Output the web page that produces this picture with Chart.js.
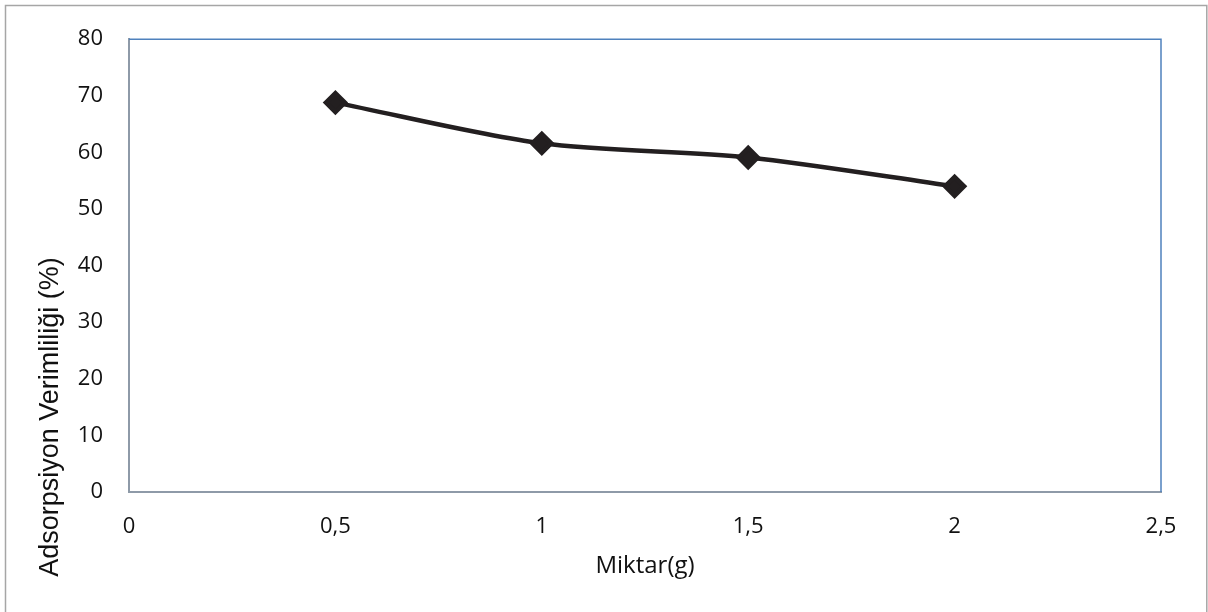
<!DOCTYPE html>
<html>
<head>
<meta charset="utf-8">
<script src="https://cdn.jsdelivr.net/npm/chart.js@4.4.1/dist/chart.umd.min.js"></script>
<style>
  html, body { margin: 0; padding: 0; background: #fff; }
  #wrap { width: 1208px; height: 612px; }
</style>
</head>
<body>
<div id="wrap"><canvas id="grafico" width="1208" height="612"></canvas></div>
<script>
// dados
const miktar = [0.5, 1, 1.5, 2];
const verim = [68.8, 61.6, 59.1, 54.0];
const xTickLabels = ['0', '0,5', '1', '1,5', '2', '2,5'];
const yTickLabels = ['0', '10', '20', '30', '40', '50', '60', '70', '80'];
const yTitulo = 'Adsorpsiyon Verimliliği (%)';

const pontos = miktar.map((m, i) => ({ x: m, y: verim[i] }));

// moldura externa, bordas do plot (cima/direita azul) e título do eixo y
const molduras = {
  id: 'molduras',
  beforeDraw(chart) {
    const c = chart.ctx;
    c.save();
    c.fillStyle = '#fff';
    c.fillRect(0, 0, chart.width, chart.height);
    c.strokeStyle = '#a6a6a6';
    c.lineWidth = 1.5;
    c.beginPath();
    c.moveTo(5.5, chart.height);
    c.lineTo(5.5, 5.5);
    c.lineTo(1206.8, 5.5);
    c.lineTo(1206.8, chart.height);
    c.stroke();
    c.restore();
  },
  afterDraw(chart) {
    const a = chart.chartArea;
    const c = chart.ctx;
    c.save();
    c.strokeStyle = '#4f81bd';
    c.lineWidth = 1.5;
    c.beginPath();
    c.moveTo(a.left, a.top);
    c.lineTo(a.right, a.top);
    c.lineTo(a.right, a.bottom);
    c.stroke();
    // título y
    c.translate(51, 417);
    c.rotate(-Math.PI / 2);
    c.fillStyle = '#111';
    c.font = '27px "Liberation Sans"';
    c.textAlign = 'center';
    c.textBaseline = 'middle';
    c.fillText(yTitulo, 0, 0);
    c.restore();
  }
};

const ctx = document.getElementById('grafico').getContext('2d');
const grafico = new Chart(ctx, {
  type: 'scatter',
  data: {
    datasets: [{
      label: 'Verim',
      data: pontos,
      showLine: true,
      borderColor: '#231f20',
      backgroundColor: '#231f20',
      borderWidth: 4.5,
      tension: 0.3,
      pointStyle: 'rectRot',
      pointRadius: 9.5,
      pointHoverRadius: 9.5
    }]
  },
  options: {
    responsive: false,
    animation: false,
    layout: { padding: { top: 37, right: 47, bottom: 0, left: 0 } },
    plugins: { legend: { display: false }, tooltip: { enabled: false } },
    scales: {
      x: {
        type: 'linear',
        min: 0,
        max: 2.5,
        afterFit: s => { s.height = 120; },
        afterBuildTicks: s => { s.ticks = xTickLabels.map((t, i) => ({ value: i * 0.5 })); },
        grid: { display: false, drawTicks: false },
        border: { color: '#8e9aa8', width: 2 },
        ticks: {
          padding: 22,
          color: '#111',
          font: { family: 'Open Sans', size: 22 },
          callback: (v, i) => xTickLabels[i]
        },
        title: {
          display: true,
          text: 'Miktar(g)',
          color: '#111',
          font: { family: 'Open Sans', size: 24 },
          padding: { top: 0, bottom: 31 }
        }
      },
      y: {
        min: 0,
        max: 80,
        afterFit: s => { s.width = 129; },
        afterBuildTicks: s => { s.ticks = yTickLabels.map((t, i) => ({ value: i * 10 })); },
        grid: { display: false, drawTicks: false },
        border: { color: '#8e9aa8', width: 2 },
        ticks: {
          padding: 26,
          color: '#111',
          font: { family: 'Open Sans', size: 22 },
          callback: (v, i) => yTickLabels[i]
        }
      }
    }
  },
  plugins: [molduras]
});
</script>
</body>
</html>
